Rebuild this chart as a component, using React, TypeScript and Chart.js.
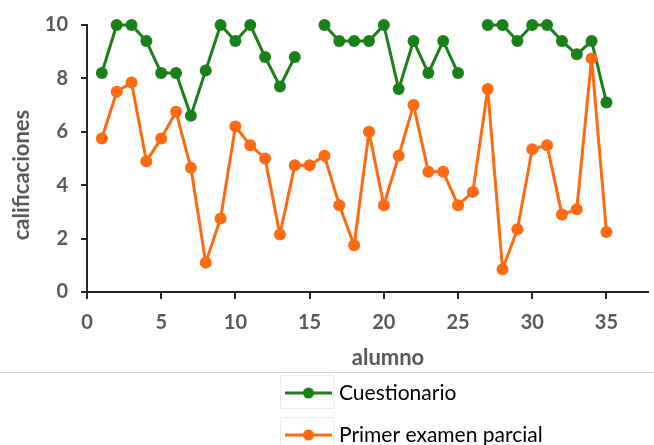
import React, { useEffect, useRef } from 'react';
import { Chart, registerables } from 'chart.js';

Chart.register(...registerables);

const students = [1, 2, 3, 4, 5, 6, 7, 8, 9, 10, 11, 12, 13, 14, 15, 16, 17, 18, 19, 20, 21, 22, 23, 24, 25, 26, 27, 28, 29, 30, 31, 32, 33, 34, 35];
const cuestionario = [8.2, 10, 10, 9.4, 8.2, 8.2, 6.6, 8.3, 10, 9.4, 10, 8.8, 7.7, 8.8, null, 10, 9.4, 9.4, 9.4, 10, 7.6, 9.4, 8.2, 9.4, 8.2, null, 10, 10, 9.4, 10, 10, 9.4, 8.9, 9.4, 7.1];
const primerExamen = [5.75, 7.5, 7.85, 4.9, 5.75, 6.75, 4.65, 1.1, 2.75, 6.2, 5.5, 5.0, 2.15, 4.75, 4.75, 5.1, 3.25, 1.75, 6.0, 3.25, 5.1, 7.0, 4.5, 4.5, 3.25, 3.75, 7.6, 0.85, 2.35, 5.35, 5.5, 2.9, 3.1, 8.75, 2.25];
const xTickValues = [0, 5, 10, 15, 20, 25, 30, 35];
const yTickValues = [0, 2, 4, 6, 8, 10];
const seriesNames = ['Cuestionario', 'Primer examen parcial'];
const xTitle = 'alumno';
const yTitle = 'calificaciones';

const GREEN = '#1a801a';
const ORANGE = '#ff6a10';
const AXIS = '#262626';
const TEXT = '#595959';
const FONT = 'Lato';

const decorPlugin = {
  id: 'decor',
  afterDraw(chart: any) {
    const ctx = chart.ctx;
    ctx.save();
    // axis titles
    ctx.fillStyle = TEXT;
    ctx.font = `bold 22px ${FONT}`;
    ctx.textAlign = 'center';
    ctx.textBaseline = 'middle';
    ctx.fillText(xTitle, 388, 358);
    ctx.save();
    ctx.translate(22, 175);
    ctx.rotate(-Math.PI / 2);
    ctx.fillText(yTitle, 0, 0);
    ctx.restore();
    // separator
    ctx.strokeStyle = '#d4d4d4';
    ctx.lineWidth = 1;
    ctx.beginPath();
    ctx.moveTo(0, 372.5);
    ctx.lineTo(chart.width, 372.5);
    ctx.stroke();
    // legend
    chart.data.datasets.forEach((ds: any, i: number) => {
      const cy = 393 + i * 42;
      ctx.strokeStyle = '#ececec';
      ctx.lineWidth = 1;
      ctx.strokeRect(280.5, cy - 17.5, 53, 33);
      ctx.strokeStyle = ds.borderColor;
      ctx.lineWidth = 3;
      ctx.beginPath();
      ctx.moveTo(285, cy);
      ctx.lineTo(332, cy);
      ctx.stroke();
      ctx.fillStyle = ds.borderColor;
      ctx.beginPath();
      ctx.arc(308.5, cy, 5.5, 0, Math.PI * 2);
      ctx.fill();
      ctx.fillStyle = '#000000';
      ctx.font = `21px ${FONT}`;
      ctx.textBaseline = 'middle';
      ctx.textAlign = 'left';
      ctx.fillText(ds.label, 339, cy);
    });
    ctx.restore();
  },
};

export default function App() {
  const ref = useRef<HTMLCanvasElement | null>(null);
  useEffect(() => {
    document.body.style.margin = '0';
    const canvas = ref.current;
    if (!canvas) return;
    const chart = new Chart(canvas, {
      type: 'line',
      data: {
        datasets: [
          {
            label: seriesNames[0],
            data: students.map((s, i) => ({ x: s, y: cuestionario[i] })),
            borderColor: GREEN,
            backgroundColor: GREEN,
            borderWidth: 3,
            borderJoinStyle: 'round',
            pointRadius: 6,
            pointBorderWidth: 0,
            pointBackgroundColor: GREEN,
            spanGaps: false,
            clip: false,
            order: 2,
          },
          {
            label: seriesNames[1],
            data: students.map((s, i) => ({ x: s, y: primerExamen[i] })),
            borderColor: ORANGE,
            backgroundColor: ORANGE,
            borderWidth: 3,
            borderJoinStyle: 'round',
            pointRadius: 6,
            pointBorderWidth: 0,
            pointBackgroundColor: ORANGE,
            spanGaps: false,
            clip: false,
            order: 1,
          },
        ],
      },
      options: {
        responsive: false,
        animation: false,
        layout: { padding: { top: 20, left: 0, right: 0, bottom: 73 } },
        plugins: {
          legend: { display: false },
          tooltip: { enabled: false },
        },
        scales: {
          x: {
            type: 'linear',
            min: 0,
            max: 37.8,
            afterBuildTicks: (scale: any) => {
              scale.ticks = xTickValues.map((v) => ({ value: v }));
            },
            afterFit: (scale: any) => {
              scale.height = 80;
            },
            grid: {
              display: true,
              drawOnChartArea: false,
              drawTicks: true,
              tickLength: 7,
              color: AXIS,
              lineWidth: 2,
            },
            border: { display: true, color: AXIS, width: 2 },
            ticks: {
              padding: 12,
              color: TEXT,
              font: { family: FONT, size: 20, weight: 'bold' },
              maxRotation: 0,
            },
            title: { display: false },
          },
          y: {
            min: 0,
            max: 10,
            afterBuildTicks: (scale: any) => {
              scale.ticks = yTickValues.map((v) => ({ value: v }));
            },
            afterFit: (scale: any) => {
              scale.width = 87;
            },
            grid: {
              display: true,
              drawOnChartArea: false,
              drawTicks: true,
              tickLength: 6,
              color: AXIS,
              lineWidth: 2,
            },
            border: { display: true, color: AXIS, width: 2 },
            ticks: {
              padding: 13,
              color: TEXT,
              font: { family: FONT, size: 20, weight: 'bold' },
            },
            title: { display: false },
          },
        },
      },
      plugins: [decorPlugin],
    } as any);
    return () => chart.destroy();
  }, []);
  return <canvas ref={ref} width={654} height={445} style={{ display: 'block' }} />;
}
